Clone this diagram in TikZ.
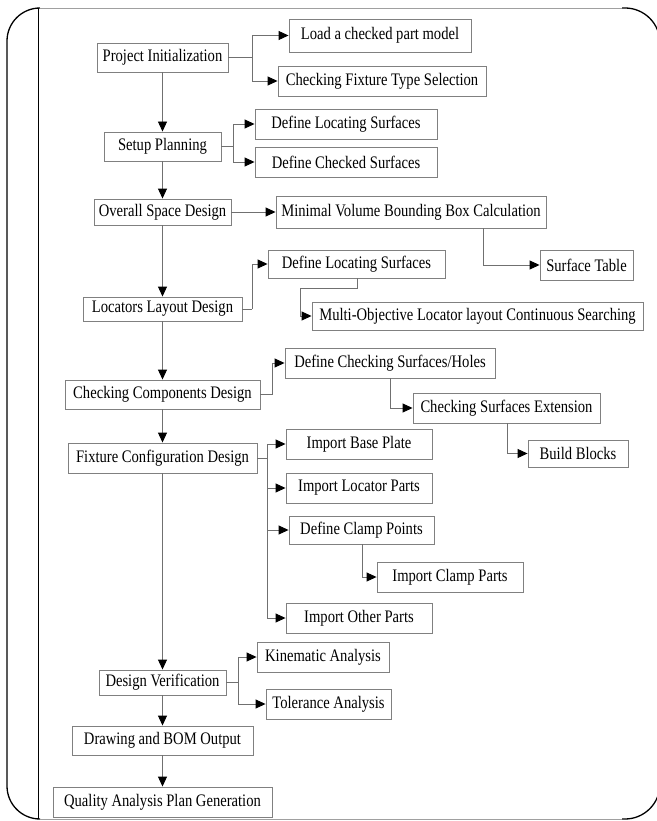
\documentclass[tikz,border=0pt]{standalone}
\usepackage{fontspec}
\setmainfont{Liberation Serif}[FakeStretch=0.83]
\usetikzlibrary{arrows.meta,calc}
\definecolor{boxgray}{HTML}{808080}
\definecolor{linegray}{HTML}{707070}
\definecolor{edgegray}{HTML}{A0A0A0}
\tikzset{
  box/.style={draw=boxgray, line width=0.9pt, inner sep=0pt, text=black,
    font=\fontsize{17.6}{19}\selectfont},
  conn/.style={draw=linegray, line width=0.9pt},
  arr/.style={conn, -{Triangle[length=10pt,width=9pt,color=black]}},
  frame/.style={draw=black, line width=1.3pt},
}
\newcommand{\bx}[6]{\node[box, minimum width={(#4-#2)*1pt}, minimum height={(#5-#3)*1pt}] (#1) at ({(#2+#4)/2},{(#3+#5)/2}) {#6};}
\begin{document}
\begin{tikzpicture}[x=1pt,y=-1pt]
\useasboundingbox[fill=white] (0,0) rectangle (656,821);
% frame
\draw[frame, rounded corners=33pt] (40,8) -- (7,8) -- (7,819) -- (40,819);
\draw[frame, rounded corners=35pt] (622,8) -- (660,8) -- (660,819) -- (622,819);
\draw[draw=edgegray, line width=0.8pt] (40,8) -- (622,8);
\draw[draw=edgegray, line width=0.8pt] (40,819) -- (622,819);
\draw[frame] (38.5,8) -- (38.5,819);
% main column
\bx{pi}{97}{43}{228}{72}{Project Initialization}
\bx{sp}{104}{132}{221}{161}{Setup Planning}
\bx{osd}{94}{199}{231}{225}{Overall Space Design}
\bx{lld}{83}{297}{242}{321}{Locators Layout Design}
\bx{ccd}{65}{380}{260}{409}{Checking Components Design}
\bx{fcd}{68}{443}{257}{473}{Fixture Configuration Design}
\bx{dv}{99}{670}{226}{695}{Design Verification}
\bx{dbom}{72}{726}{253}{755}{Drawing and BOM Output}
\bx{qapg}{53}{787}{272}{817}{Quality Analysis Plan Generation}
% side boxes
\bx{load}{289}{19}{471}{52}{Load a checked part model}
\bx{cfts}{278}{66}{486}{96}{Checking Fixture Type Selection}
\bx{dls1}{255}{109}{437}{139}{Define Locating Surfaces}
\bx{dcs}{255}{147}{437}{177}{Define Checked Surfaces}
\bx{mv}{276}{196}{546}{228}{Minimal Volume Bounding Box Calculation}
\bx{st}{540}{250}{633}{280}{Surface Table}
\bx{dls2}{268}{250}{445}{278}{Define Locating Surfaces}
\bx{mo}{312}{302}{643}{330}{Multi-Objective Locator layout Continuous Searching}
\bx{dcsh}{285}{348}{495}{378}{Define Checking Surfaces/Holes}
\bx{cse}{413}{393}{600}{423}{Checking Surfaces Extension}
\bx{bb}{528}{440}{628}{467}{Build Blocks}
\bx{ibp}{286}{429}{432}{459}{Import Base Plate}
\bx{ilp}{286}{473}{432}{503}{Import Locator Parts}
\bx{dcp}{289}{516}{434}{544}{Define Clamp Points}
\bx{icp}{377}{562}{523}{592}{Import Clamp Parts}
\bx{iop}{286}{603}{432}{633}{Import Other Parts}
\bx{ka}{257}{642}{389}{672}{Kinematic Analysis}
\bx{ta}{266}{689}{391}{719}{Tolerance Analysis}
% helper coordinates
\coordinate (j1) at (252,57.5);
\coordinate (j2) at (233,146.5);
\coordinate (j3) at (252,309);
\coordinate (j4) at (272,394.5);
\coordinate (j5) at (267,458);
\coordinate (j6) at (238,682.5);
\coordinate (c1) at (483,0);
\coordinate (c2) at (357,0);
\coordinate (k1) at (300,288);
\coordinate (c3) at (390,0);
\coordinate (c4) at (507,0);
\coordinate (c5) at (362,0);
% main arrows
\draw[arr] (pi.south) -- (sp.north);
\draw[arr] (sp.south) -- (osd.north);
\draw[arr] (osd.south) -- (lld.north);
\draw[arr] (lld.south) -- (ccd.north);
\draw[arr] (ccd.south) -- (fcd.north);
\draw[arr] (fcd.south) -- (dv.north);
\draw[arr] (dv.south) -- (dbom.north);
\draw[arr] (dbom.south) -- (qapg.north);
% branches
\draw[conn] (pi.east) -- (j1);
\draw[arr] (j1) |- (load.west);
\draw[arr] (j1) |- (cfts.west);
\draw[conn] (sp.east) -- (j2);
\draw[arr] (j2) |- (dls1.west);
\draw[arr] (j2) |- (dcs.west);
\draw[arr] (osd.east) -- (mv.west);
\draw[arr] (mv.south -| c1) |- (st.west);
\draw[conn] (lld.east) -- (j3);
\draw[arr] (j3) |- (dls2.west);
\draw[arr] (dls2.south -| c2) |- (k1) |- (mo.west);
\draw[conn] (ccd.east) -- (j4);
\draw[arr] (j4) |- (dcsh.west);
\draw[arr] (dcsh.south -| c3) |- (cse.west);
\draw[arr] (cse.south -| c4) |- (bb.west);
\draw[conn] (fcd.east) -- (j5);
\draw[arr] (j5) |- (ibp.west);
\draw[arr] (j5) |- (ilp.west);
\draw[arr] (j5) |- (dcp.west);
\draw[arr] (j5) |- (iop.west);
\draw[arr] (dcp.south -| c5) |- (icp.west);
\draw[conn] (dv.east) -- (j6);
\draw[arr] (j6) |- (ka.west);
\draw[arr] (j6) |- (ta.west);
\end{tikzpicture}
\end{document}
